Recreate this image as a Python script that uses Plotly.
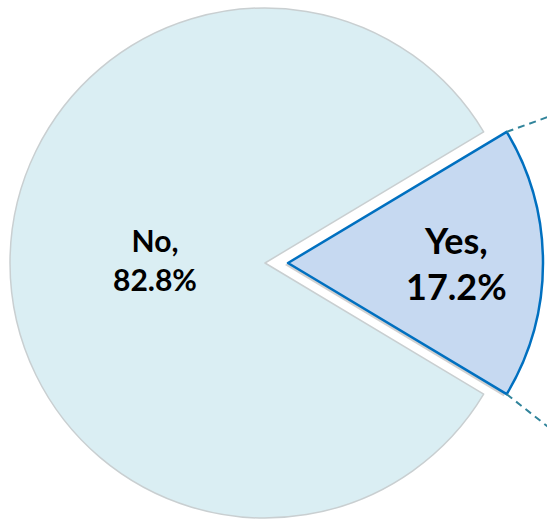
"""
Pie chart: share of respondents answering Yes / No, with the Yes slice exploded.
"""

import math
import plotly.graph_objects as go

labels = ["Yes", "No"]
values = [17.2, 82.8]

W, H = 547, 521
R = 255            # pie radius in px
CX, CY = 265, 263  # centre of main pie (px from top-left)
EXPLODE = 23       # px shift of the Yes slice to the right

no_fill = "#DAEEF3"
yes_fill = "#C6D9F1"
yes_line = "#0070C0"
dash_col = "#31849B"

share = values[0] / sum(values)
half = share * 180.0             # half-angle of the Yes slice, degrees
rotation = 90 - half             # start of Yes slice, so it is centred at 3 o'clock


def domain(cx, cy):
    return dict(x=[(cx - R) / W, (cx + R) / W],
                y=[(H - cy - R) / H, (H - cy + R) / H])


fig = go.Figure()

# soft shadow behind the exploded slice
fig.add_trace(go.Pie(
    labels=labels, values=values, sort=False, direction="clockwise",
    rotation=rotation, domain=domain(CX + EXPLODE - 3, CY + 2),
    marker=dict(colors=["rgba(150,150,150,0.45)", "rgba(0,0,0,0)"],
                line=dict(width=0)),
    textinfo="none", hoverinfo="skip", showlegend=False,
))

# main pie (No slice) - its label is placed as an annotation below
fig.add_trace(go.Pie(
    labels=labels, values=values, sort=False, direction="clockwise",
    rotation=rotation, domain=domain(CX, CY),
    marker=dict(colors=["rgba(0,0,0,0)", no_fill],
                line=dict(color=["rgba(0,0,0,0)", "#C9CFD1"], width=1.5)),
    textinfo="none",
    showlegend=False,
))

# exploded Yes slice
fig.add_trace(go.Pie(
    labels=labels, values=values, sort=False, direction="clockwise",
    rotation=rotation, domain=domain(CX + EXPLODE, CY),
    marker=dict(colors=[yes_fill, "rgba(0,0,0,0)"],
                line=dict(color=[yes_line, "rgba(0,0,0,0)"], width=2.5)),
    texttemplate=["<b>%{label},<br>%{percent:.1%}</b>", ""],
    textposition="inside", insidetextorientation="horizontal",
    textfont=dict(family="Lato", size=36, color="black"),
    showlegend=False,
))

fig.add_annotation(
    x=155 / W, y=1 - 259 / H, xref="paper", yref="paper",
    xanchor="center", yanchor="middle",
    text=f"<b>{labels[1]},<br>{values[1]:.1f}%</b>", showarrow=False,
    font=dict(family="Lato", size=30, color="black"), align="center",
)

# dashed connector lines leaving the outer corners of the Yes slice
ax, ay = CX + EXPLODE, CY
for sign, slope in [(-1, -0.36), (1, 0.79)]:
    x0 = ax + R * math.cos(math.radians(half))
    y0 = ay + sign * R * math.sin(math.radians(half))
    x1 = W + 5
    y1 = y0 + slope * (x1 - x0)
    fig.add_shape(type="line", xref="paper", yref="paper",
                  x0=x0 / W, y0=1 - y0 / H, x1=x1 / W, y1=1 - y1 / H,
                  line=dict(color=dash_col, width=2, dash="7px,5px"))

fig.update_layout(
    width=W, height=H,
    margin=dict(l=0, r=0, t=0, b=0),
    paper_bgcolor="white", plot_bgcolor="white",
    showlegend=False,
)

fig.write_html("out.html", config={"displayModeBar": False},
               post_script="document.body.style.margin='0';")
